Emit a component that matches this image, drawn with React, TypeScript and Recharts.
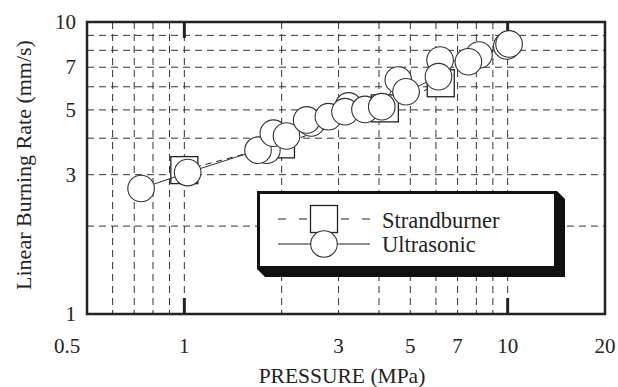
import { ComposedChart, Scatter, XAxis, YAxis, CartesianGrid, Legend, ReferenceArea, ReferenceLine } from "recharts"

// Ultrasonic points, in drawing order (later ones sit on top)
const ultrasonicP = [0.735, 1.024, 1.8, 1.69, 1.885, 2.07, 2.47, 2.39, 2.79, 3.22, 3.14, 3.62, 4.08, 4.59, 4.85, 6.18, 6.11, 8.15, 7.56, 9.94, 10.1]
const ultrasonicR = [2.69, 3.05, 3.64, 3.64, 4.16, 4.07, 4.51, 4.62, 4.74, 5.16, 4.93, 5.02, 5.13, 6.33, 5.77, 7.41, 6.5, 7.71, 7.31, 8.28, 8.41]

const strandP = [1.0, 1.99, 4.17, 6.21]
const strandR = [3.11, 3.81, 5.06, 6.17]

const xGridTicks = [0.5, 0.6, 0.7, 0.8, 0.9, 1, 2, 3, 4, 5, 6, 7, 8, 9, 10, 20]
const xLabels = [0.5, 1, 3, 5, 7, 10, 20]
const yGridTicks = [1, 2, 3, 4, 5, 6, 7, 8, 9, 10]
const yLabels = [1, 3, 5, 7, 10]
const majorX = [1, 10]

const FONT = '"Liberation Serif", "Times New Roman", serif'
const INK = "#222"

const ultrasonic = ultrasonicP.map((p, i) => ({ p, r: ultrasonicR[i] }))
const ultrasonicLine = [...ultrasonic].sort((a, b) => a.p - b.p)
const strand = strandP.map((p, i) => ({ p, r: strandR[i] }))

const BottomTick = ({ x, y, payload }: any) =>
  xLabels.includes(payload.value) ? (
    <text x={payload.value === 0.5 ? x - 20 : x} y={y + 32} textAnchor="middle" dominantBaseline="central"
      fontFamily={FONT} fontSize={21} fill={INK}>{payload.value}</text>
  ) : <g />

const LeftTick = ({ x, y, payload }: any) =>
  yLabels.includes(payload.value)
    ? <text x={x - 11} y={y} textAnchor="end" dominantBaseline="central" fontFamily={FONT} fontSize={21} fill={INK}>{payload.value}</text>
    : <g />

// thick short marks at both ends of the decade lines
const DecadeMarks = ({ x1, y1, y2 }: any) => {
  const top = Math.min(y1, y2), bot = Math.max(y1, y2)
  return (
    <g stroke={INK} strokeWidth={3}>
      <line x1={x1} x2={x1} y1={top} y2={top + 16} />
      <line x1={x1} x2={x1} y1={bot} y2={bot - 16} />
    </g>
  )
}

const Circle = ({ cx, cy }: any) => <circle cx={cx} cy={cy} r={13.3} fill="#fff" stroke="#333" strokeWidth={1.1} />
const Square = ({ cx, cy }: any) => <rect x={cx - 13.5} y={cy - 13.5} width={27} height={27} fill="#fff" stroke={INK} strokeWidth={1.3} />
const NoDot = () => <g />

const LegendBox = () => (
  <svg width={312} height={90} style={{ display: "block" }}>
    <polygon points="0,78 300,78 300,0 308,8 308,86 8,86" fill="#111" />
    <rect x={1.5} y={1.5} width={297} height={75} fill="#fff" stroke="#111" strokeWidth={3} />
    <line x1={21} x2={113} y1={28} y2={28} stroke={INK} strokeWidth={1.2} strokeDasharray="8 13" />
    <rect x={53.5} y={14.5} width={27} height={27} fill="#fff" stroke={INK} strokeWidth={1.3} />
    <line x1={21} x2={113} y1={53} y2={53} stroke={INK} strokeWidth={1.2} />
    <circle cx={67} cy={53} r={13.3} fill="#fff" stroke="#333" strokeWidth={1.1} />
    <text x={125} y={37} fontFamily={FONT} fontSize={22.5} fill={INK}>Strandburner</text>
    <text x={125} y={60.5} fontFamily={FONT} fontSize={22.5} fill={INK}>Ultrasonic</text>
  </svg>
)

export default function App() {
  return (
    <>
      <style>{"body{margin:0;background:#fff}"}</style>
      <ComposedChart width={618} height={387} margin={{ top: 22, right: 13, bottom: 0, left: 0 }}>
        <CartesianGrid stroke="#333" strokeWidth={1} strokeDasharray="7 5" />
        <XAxis dataKey="p" type="number" scale="log" domain={[0.5, 20]} ticks={xGridTicks} interval={0}
          allowDataOverflow height={73} axisLine={false} tickLine={false} tickSize={0} tickMargin={0}
          tick={<BottomTick />}
          label={{
            content: ({ viewBox }: any) => (
              <text x={viewBox.x + viewBox.width / 2 - 4} y={viewBox.y + 62} textAnchor="middle" dominantBaseline="central"
                fontFamily={FONT} fontSize={21.5} fill={INK}>PRESSURE (MPa)</text>
            ),
          }} />
        <YAxis dataKey="r" type="number" scale="log" domain={[1, 10]} ticks={yGridTicks} interval={0}
          allowDataOverflow width={87} axisLine={false} tickLine={false} tickSize={0} tickMargin={0}
          tick={<LeftTick />}
          label={{
            content: ({ viewBox }: any) => {
              const cx = 23, cy = viewBox.y + viewBox.height / 2 - 3
              return (
                <text x={cx} y={cy} transform={`rotate(-90 ${cx} ${cy})`} textAnchor="middle" dominantBaseline="central"
                  fontFamily={FONT} fontSize={22} fill={INK}>Linear Burning Rate (mm/s)</text>
              )
            },
          }} />
        {majorX.map((v) => (
          <ReferenceLine key={v} x={v} stroke="none" shape={<DecadeMarks />} />
        ))}
        <ReferenceArea x1={0.5} x2={20} y1={1} y2={10} fill="none" stroke={INK} strokeWidth={2.5} />
        <Scatter name="Strandburner" data={strand} dataKey="r" isAnimationActive={false}
          line={{ stroke: INK, strokeWidth: 1, strokeDasharray: "6 5" }} shape={<Square />} />
        <Scatter name="Ultrasonic line" data={ultrasonicLine} dataKey="r" isAnimationActive={false}
          line={{ stroke: "#333", strokeWidth: 1 }} shape={<NoDot />} legendType="none" />
        <Scatter name="Ultrasonic" data={ultrasonic} dataKey="r" isAnimationActive={false} shape={<Circle />} />
        <Legend layout="vertical" align="center" verticalAlign="middle" content={() => <LegendBox />}
          wrapperStyle={{ left: 257, top: 191, width: 312, height: 90 }} />
      </ComposedChart>
    </>
  )
}
